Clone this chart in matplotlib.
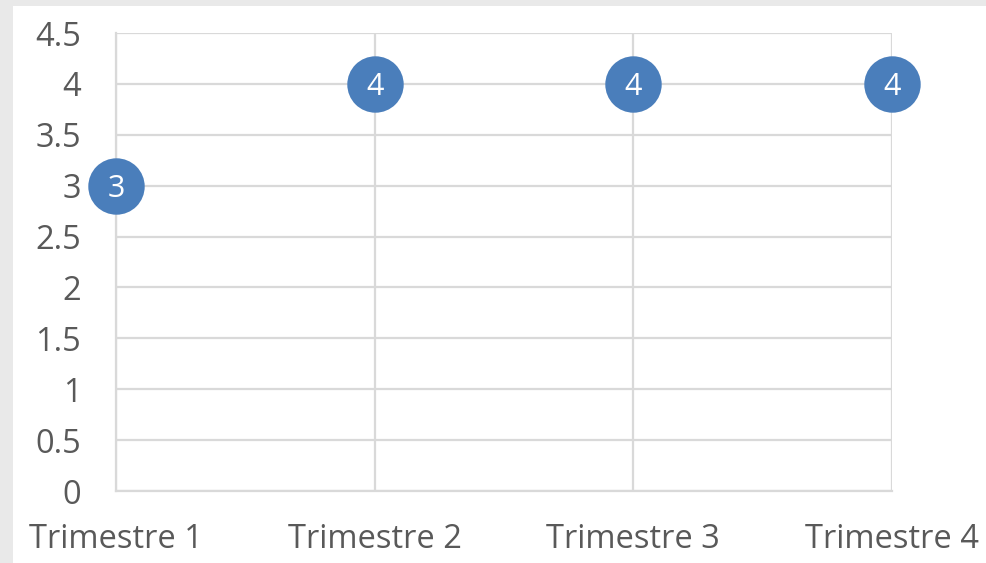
import matplotlib.pyplot as plt
from matplotlib.patches import Rectangle

categories = ["Trimestre 1", "Trimestre 2", "Trimestre 3", "Trimestre 4"]
values = [3, 4, 4, 4]
y_ticks = [0, 0.5, 1, 1.5, 2, 2.5, 3, 3.5, 4, 4.5]

plt.rcParams["font.family"] = ["Open Sans", "DejaVu Sans"]
text_color = "#595959"
grid_color = "#d9d9d9"
bubble_color = "#4a7ebb"

fig = plt.figure(figsize=(9.87, 5.63), dpi=100, facecolor="#e9e9e9")
fig.add_artist(Rectangle((13 / 987, 0), 1, 1 - 6 / 563, transform=fig.transFigure,
                         facecolor="white", edgecolor="none", zorder=-10))

ax = fig.add_axes([116 / 987, 1 - 491 / 563, (892 - 116) / 987, (491 - 33) / 563])
ax.set_facecolor("none")

x = list(range(len(categories)))
ax.scatter(x, values, s=1650, color=bubble_color, zorder=3, clip_on=False, linewidths=0)
for xi, v in zip(x, values):
    ax.text(xi, v, str(v), color="white", fontsize=22, ha="center", va="center_baseline", zorder=4)

ax.set_xlim(0, len(categories) - 1)
ax.set_ylim(0, 4.5)
ax.set_xticks(x)
ax.set_xticklabels(categories)
ax.set_yticks(y_ticks)
ax.set_yticklabels([f"{t:g}" for t in y_ticks])
ax.tick_params(axis="both", length=0, labelsize=23.5, labelcolor=text_color)
ax.tick_params(axis="y", pad=25)
ax.tick_params(axis="x", pad=23)

ax.grid(True, color=grid_color, linewidth=1.6, zorder=0)
ax.set_axisbelow(True)
for side in ["top", "right"]:
    ax.spines[side].set_visible(False)
for side in ["left", "bottom"]:
    ax.spines[side].set_color(grid_color)
    ax.spines[side].set_linewidth(1.6)

plt.savefig("out.png", dpi=100)
plt.close()
